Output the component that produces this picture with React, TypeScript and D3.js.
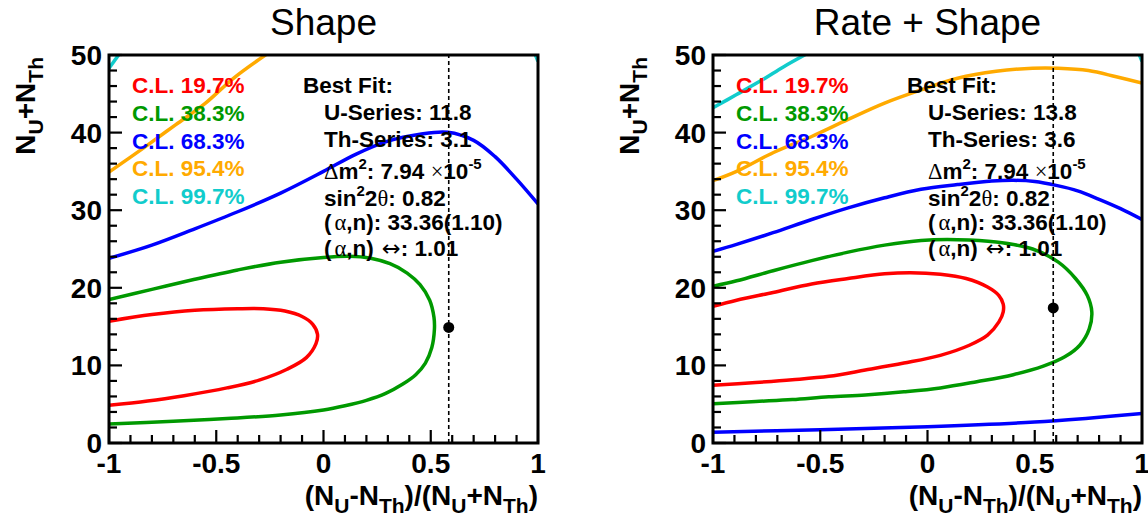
import React from "react";
import * as d3 from "d3";

type Pt = [number, number];

// ---------- data ----------
const panelTitles = ["Shape", "Rate + Shape"];
const xTickValues = [-1, -0.5, 0, 0.5, 1];
const yTickValues = [0, 10, 20, 30, 40, 50];
const clLabels = ["C.L. 19.7%", "C.L. 38.3%", "C.L. 68.3%", "C.L. 95.4%", "C.L. 99.7%"];
const uSeries = [11.8, 13.8];
const thSeries = [3.1, 3.6];
const dm2Mantissa = "7.94";
const sin2theta = "0.82";
const alphaN = "33.36(1.10)";
const alphaNRatio = "1.01";

// Shape-only contours
const shapeRed: Pt[] = [[-1, 15.7], [-0.8, 16.55], [-0.6, 17.1], [-0.4, 17.3], [-0.28, 17.3], [-0.18, 17.0], [-0.1, 16.3], [-0.05, 15.3], [-0.028, 14.0], [-0.035, 12.8], [-0.08, 11.0], [-0.17, 9.5], [-0.3, 8.1], [-0.45, 7.1], [-0.65, 6.1], [-0.82, 5.4], [-1, 4.85]];
const shapeGreen: Pt[] = [[-1, 18.5], [-0.8, 19.8], [-0.6, 21.1], [-0.4, 22.3], [-0.2, 23.3], [0, 23.9], [0.12, 24.05], [0.22, 23.8], [0.31, 23.1], [0.39, 21.9], [0.45, 20.4], [0.495, 18.4], [0.515, 16.2], [0.517, 14.6], [0.505, 12.3], [0.475, 10.3], [0.43, 8.8], [0.37, 7.6], [0.29, 6.4], [0.2, 5.5], [0.1, 4.8], [0, 4.25], [-0.2, 3.6], [-0.45, 3.15], [-0.7, 2.8], [-1, 2.45]];
const shapeBlue: Pt[] = [[-1, 23.8], [-0.8, 25.5], [-0.6, 27.6], [-0.4, 29.8], [-0.2, 32.2], [0, 35.0], [0.15, 37.2], [0.3, 38.9], [0.45, 39.8], [0.58, 40.05], [0.7, 39.0], [0.8, 36.9], [0.9, 34.0], [1, 30.8]];
const shapeOrange: Pt[] = [[-1, 34.9], [-0.83, 38.2], [-0.69, 41.0], [-0.55, 43.8], [-0.42, 47.0], [-0.26, 50.2]];
const shapeCyanA: Pt[] = [[-1, 48.3], [-0.95, 50.2]];
const shapeCyanB: Pt[] = [[0.985, 50.2], [1, 49.2]];

// Rate + Shape contours
const rsRed: Pt[] = [[-1, 17.6], [-0.89, 18.4], [-0.72, 19.4], [-0.54, 20.5], [-0.37, 21.2], [-0.2, 21.8], [-0.08, 21.95], [0.06, 21.75], [0.18, 21.2], [0.28, 20.1], [0.333, 19.0], [0.353, 17.9], [0.353, 16.9], [0.333, 15.6], [0.28, 13.9], [0.195, 12.6], [0.06, 11.3], [-0.11, 10.3], [-0.29, 9.4], [-0.46, 8.6], [-0.63, 8.15], [-0.8, 7.8], [-1, 7.45]];
const rsGreen: Pt[] = [[-1, 20.2], [-0.89, 20.9], [-0.72, 22.2], [-0.54, 23.5], [-0.37, 24.6], [-0.2, 25.5], [-0.03, 26.1], [0.14, 26.2], [0.32, 25.9], [0.49, 25.0], [0.61, 23.3], [0.69, 21.2], [0.745, 19.0], [0.766, 16.9], [0.754, 14.7], [0.71, 12.6], [0.64, 11.1], [0.54, 9.9], [0.4, 8.8], [0.23, 7.9], [0.06, 7.1], [-0.11, 6.6], [-0.29, 6.2], [-0.46, 5.95], [-0.63, 5.6], [-0.8, 5.35], [-1, 5.05]];
const rsBlueUpper: Pt[] = [[-1, 24.7], [-0.89, 25.6], [-0.72, 27.1], [-0.54, 28.8], [-0.37, 30.3], [-0.2, 31.6], [-0.03, 32.7], [0.14, 33.3], [0.3, 33.75], [0.4, 33.85], [0.5, 33.7], [0.6, 33.2], [0.7, 32.5], [0.8, 31.4], [0.9, 30.2], [1, 28.8]];
const rsBlueLower: Pt[] = [[-1, 1.4], [-0.5, 1.7], [0, 2.1], [0.5, 2.7], [0.75, 3.2], [1, 3.8]];
const rsOrange: Pt[] = [[-1, 33.8], [-0.89, 35.0], [-0.72, 37.4], [-0.54, 39.5], [-0.37, 41.7], [-0.2, 43.8], [-0.03, 45.5], [0.14, 47.0], [0.32, 47.9], [0.49, 48.3], [0.61, 48.3], [0.75, 48.0], [0.88, 47.2], [1, 46.4]];
const rsCyanA: Pt[] = [[-1, 43.2], [-0.89, 44.9], [-0.77, 46.8], [-0.67, 48.5], [-0.56, 50.2]];
const rsCyanB: Pt[] = [[0.985, 50.2], [1, 49.2]];

const panelCurves: { level: number; pts: Pt[] }[][] = [
  [
    { level: 0, pts: shapeRed },
    { level: 1, pts: shapeGreen },
    { level: 2, pts: shapeBlue },
    { level: 3, pts: shapeOrange },
    { level: 4, pts: shapeCyanA },
    { level: 4, pts: shapeCyanB },
  ],
  [
    { level: 0, pts: rsRed },
    { level: 1, pts: rsGreen },
    { level: 2, pts: rsBlueUpper },
    { level: 2, pts: rsBlueLower },
    { level: 3, pts: rsOrange },
    { level: 4, pts: rsCyanA },
    { level: 4, pts: rsCyanB },
  ],
];

// ---------- styles ----------
const W = 1148;
const H = 523;
const panelLefts = [109, 713];
const frameW = 429;
const frameTop = 55;
const frameBottom = 443;
const levelColors = ["#ff0000", "#009900", "#0000ff", "#ffaa00", "#11cccc"];
const SANS = "'Liberation Sans', Arial, Helvetica, sans-serif";
const SYM = "'Liberation Serif', 'DejaVu Serif', serif";

function Panel({ idx }: { idx: number }) {
  const left = panelLefts[idx];
  const right = left + frameW;
  const x = d3.scaleLinear().domain([-1, 1]).range([left, right]);
  const y = d3.scaleLinear().domain([0, 50]).range([frameBottom, frameTop]);
  const line = d3
    .line<Pt>()
    .x((d) => x(d[0]))
    .y((d) => y(d[1]))
    .curve(d3.curveCatmullRom.alpha(0.5));

  const xMinor = d3.range(-10, 11).map((i) => i / 10);
  const yMinor = d3.range(0, 26).map((i) => i * 2);
  const u = uSeries[idx];
  const th = thSeries[idx];
  const bx = (u - th) / (u + th);
  const by = u + th;
  const clipId = `clip${idx}`;

  const legX = left + 23;
  const legBase = [93, 121, 148.5, 176, 203.5];
  const bfX0 = left + 194;
  const bfX = left + 215;
  const bfBase = [92.5, 120, 147, 179, 206, 229.5, 256];
  const fs = 22.5;

  return (
    <g>
      <defs>
        <clipPath id={clipId}>
          <rect x={left} y={frameTop} width={frameW} height={frameBottom - frameTop} />
        </clipPath>
      </defs>
      {/* title */}
      <text
        x={(left + right) / 2}
        y={35}
        textAnchor="middle"
        fontFamily={SANS}
        fontSize={37}
      >
        {panelTitles[idx]}
      </text>
      {/* contours */}
      <g clipPath={`url(#${clipId})`}>
        {panelCurves[idx].map((c, i) => (
          <path
            key={i}
            d={line(c.pts) || ""}
            fill="none"
            stroke={levelColors[c.level]}
            strokeWidth={3.5}
            strokeLinejoin="round"
          />
        ))}
        <line
          x1={x(bx)}
          x2={x(bx)}
          y1={frameBottom}
          y2={frameTop}
          stroke="#000"
          strokeWidth={1.6}
          strokeDasharray="4,3"
        />
        <circle cx={x(bx)} cy={y(by)} r={5.5} fill="#000" />
      </g>
      {/* legend */}
      {clLabels.map((t, i) => (
        <text
          key={t}
          x={legX}
          y={legBase[i]}
          fontFamily={SANS}
          fontWeight="bold"
          fontSize={fs}
          fill={levelColors[i]}
        >
          {t}
        </text>
      ))}
      {/* best fit text */}
      <g fontFamily={SANS} fontWeight="bold" fontSize={fs} fill="#000">
        <text x={bfX0} y={bfBase[0]}>Best Fit:</text>
        <text x={bfX} y={bfBase[1]}>{`U-Series: ${u.toFixed(1)}`}</text>
        <text x={bfX} y={bfBase[2]}>{`Th-Series: ${th.toFixed(1)}`}</text>
        <text x={bfX} y={bfBase[3]}>
          <tspan fontFamily={SYM} fontWeight="normal">Δ</tspan>
          <tspan>m</tspan>
          <tspan fontSize={15} dy={-10}>2</tspan>
          <tspan dy={10}>{`: ${dm2Mantissa} `}</tspan>
          <tspan fontFamily={SYM} fontWeight="normal">×</tspan>
          <tspan>10</tspan>
          <tspan fontSize={15} dy={-10}>-5</tspan>
        </text>
        <text x={bfX} y={bfBase[4]}>
          <tspan>sin</tspan>
          <tspan fontSize={15} dy={-10}>2</tspan>
          <tspan dy={10}>2</tspan>
          <tspan fontFamily={SYM} fontWeight="normal">θ</tspan>
          <tspan>{`: ${sin2theta}`}</tspan>
        </text>
        <text x={bfX} y={bfBase[5]}>
          <tspan>(</tspan>
          <tspan fontFamily={SYM} fontWeight="normal" dx={3}>α</tspan>
          <tspan>{`,n): ${alphaN}`}</tspan>
        </text>
        <text x={bfX} y={bfBase[6]}>
          <tspan>(</tspan>
          <tspan fontFamily={SYM} fontWeight="normal" dx={3}>α</tspan>
          <tspan>,n)</tspan>
          <tspan fontFamily="'DejaVu Sans', sans-serif" fontWeight="normal" dx={8}>↔</tspan>
          <tspan>{`: ${alphaNRatio}`}</tspan>
        </text>
      </g>
      {/* ticks */}
      <g stroke="#000" strokeWidth={2.2}>
        {xMinor.map((v, i) => {
          const major = Math.abs(v * 2 - Math.round(v * 2)) < 1e-6;
          return (
            <line
              key={`xt${i}`}
              x1={x(v)}
              x2={x(v)}
              y1={frameBottom}
              y2={frameBottom - (major ? 13 : 8)}
            />
          );
        })}
        {yMinor.map((v, i) => {
          const major = v % 10 === 0;
          return (
            <line
              key={`yt${i}`}
              x1={left}
              x2={left + (major ? 13 : 8)}
              y1={y(v)}
              y2={y(v)}
            />
          );
        })}
      </g>
      {/* frame */}
      <rect
        x={left}
        y={frameTop}
        width={frameW}
        height={frameBottom - frameTop}
        fill="none"
        stroke="#000"
        strokeWidth={3}
      />
      {/* tick labels */}
      <g fontFamily={SANS} fontWeight="bold" fontSize={28} fill="#000">
        {xTickValues.map((v) => (
          <text key={`xl${v}`} x={x(v)} y={473} textAnchor="middle">
            {String(v)}
          </text>
        ))}
        {yTickValues.map((v) => (
          <text key={`yl${v}`} x={left - 7} y={y(v)} dy="0.36em" textAnchor="end">
            {String(v)}
          </text>
        ))}
      </g>
      {/* axis titles */}
      <text
        x={right}
        y={505}
        textAnchor="end"
        fontFamily={SANS}
        fontWeight="bold"
        fontSize={28}
      >
        <tspan>(N</tspan>
        <tspan fontSize={21} dy={8}>U</tspan>
        <tspan dy={-8}>-N</tspan>
        <tspan fontSize={21} dy={8}>Th</tspan>
        <tspan dy={-8}>)/(N</tspan>
        <tspan fontSize={21} dy={8}>U</tspan>
        <tspan dy={-8}>+N</tspan>
        <tspan fontSize={21} dy={8}>Th</tspan>
        <tspan dy={-8}>)</tspan>
      </text>
      <text
        transform={`translate(${left - 74},${frameTop + 2}) rotate(-90)`}
        textAnchor="end"
        fontFamily={SANS}
        fontWeight="bold"
        fontSize={28}
      >
        <tspan>N</tspan>
        <tspan fontSize={21} dy={8}>U</tspan>
        <tspan dy={-8}>+N</tspan>
        <tspan fontSize={21} dy={8}>Th</tspan>
      </text>
    </g>
  );
}

export default function App() {
  return (
    <svg
      width={W}
      height={H}
      viewBox={`0 0 ${W} ${H}`}
      style={{ position: "absolute", left: 0, top: 0, background: "#fff" }}
    >
      <rect x={0} y={0} width={W} height={H} fill="#fff" />
      <Panel idx={0} />
      <Panel idx={1} />
    </svg>
  );
}
